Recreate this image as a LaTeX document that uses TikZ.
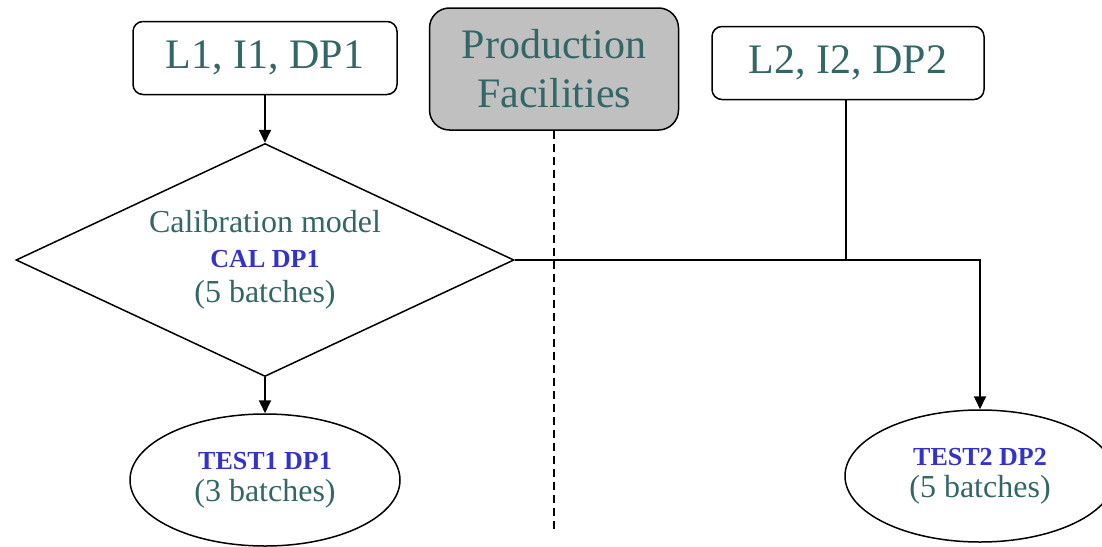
\documentclass[tikz,border=0pt]{standalone}
\usepackage{fontspec}
\setmainfont{Liberation Serif}
\usetikzlibrary{
    arrows.meta,
    positioning,
    shapes.geometric
}
\definecolor{tealtext}{HTML}{336666}
\definecolor{nameblue}{HTML}{3333CC}
\definecolor{facilitygray}{HTML}{C0C0C0}
\tikzset{
    % Colors
    teal text/.style={text=tealtext},
    %
    % Nodes
    site box/.style={rectangle,draw,rounded corners=5pt,line width=0.75pt,teal text,
        inner sep=0pt,minimum width=132pt,minimum height=36.5pt,
        font=\fontsize{21}{24.5}\selectfont},
    facility box/.style={site box,fill=facilitygray,rounded corners=10pt,align=center,
        minimum width=124.5pt,minimum height=61pt},
    model diamond/.style={diamond,draw,line width=0.75pt,teal text,align=center,
        inner sep=0pt,aspect=2.14,minimum width=249pt,minimum height=116.5pt,
        font=\fontsize{16}{17.5}\selectfont},
    test ellipse/.style={ellipse,draw,line width=0.75pt,teal text,align=center,
        inner sep=0pt,minimum width=135pt,minimum height=66pt,
        font=\fontsize{16}{16}\selectfont},
    %
    % Arrows
    arrow tip/.tip={Triangle[length=6.5pt,width=6pt]},
    arr/.style={->,>={arrow tip}},
    link/.style={line width=0.9pt},
    dashed link/.style={line width=0.75pt,dash pattern=on 4pt off 2.5pt}
}
\newcommand\batchname[1]{{\fontsize{13}{15.5}\selectfont\bfseries\color{nameblue}#1}}

\begin{document}
\begin{tikzpicture}
        [
            x=0.5pt, y=-0.5pt
        ]
        \useasboundingbox (0,0) rectangle (1102,546);
        \node[site box] (L1) at (265,58) {L1, I1, DP1};
        \node[facility box] (PF) at (554,69) {Production\\Facilities};
        \node[site box, minimum width=136pt] (L2) at (848,63) {L2, I2, DP2};
        \node[model diamond] (CAL) at (265,260) {Calibration model\\\batchname{CAL DP1}\\(5 batches)};
        \node[test ellipse] (T1) at (265,480) {\batchname{TEST1 DP1}\\(3 batches)};
        \node[test ellipse] (T2) at (980,476) {\batchname{TEST2 DP2}\\(5 batches)};
        \coordinate (tap) at (846,260);
        \coordinate (floor) at (554,530);
        \draw[link,arr] (L1) -- (CAL);
        \draw[link,arr] (CAL) -- (T1);
        \draw[dashed link] (PF) -- (floor);
        \draw[link] (CAL.east) -- (tap);
        \draw[link,arr] (L2.south -| tap) -- (tap) -| (T2.north);
    \end{tikzpicture}
\end{document}
